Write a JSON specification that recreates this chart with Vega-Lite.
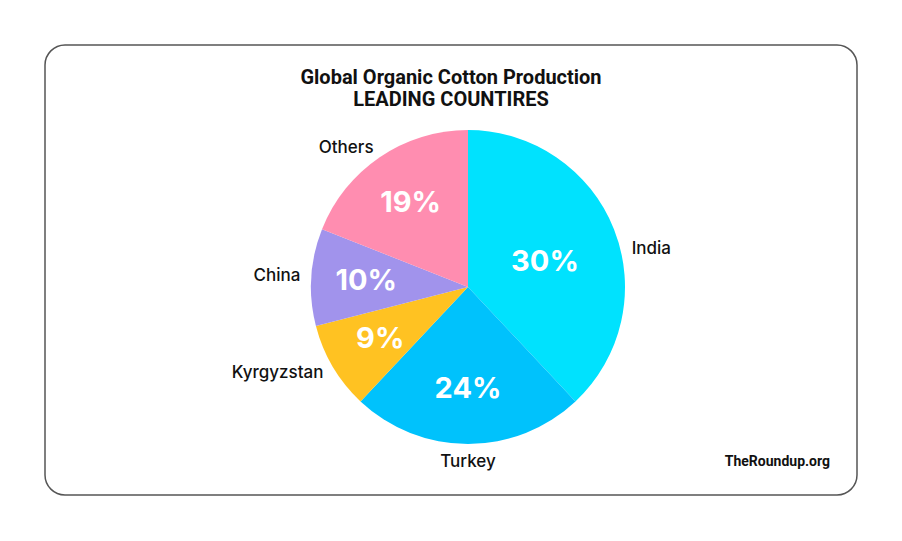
{
  "$schema": "https://vega.github.io/schema/vega-lite/v6.json",
  "width": 812,
  "height": 450,
  "autosize": {"type": "none"},
  "padding": {"left": 45, "top": 45, "right": 45, "bottom": 46},
  "background": "white",
  "config": {
    "view": {"stroke": "#555555", "strokeWidth": 1.5, "cornerRadius": 20},
    "font": "Inter"
  },
  "title": {
    "text": ["Global Organic Cotton Production", "LEADING COUNTIRES"],
    "font": "Roboto",
    "fontSize": 20,
    "fontWeight": "bold",
    "lineHeight": 22,
    "color": "#111111",
    "anchor": "middle",
    "frame": "group",
    "offset": -65
  },
  "data": {
    "values": [
      {"idx": 1, "country": "India", "share": 38, "label": "30%"},
      {"idx": 2, "country": "Turkey", "share": 24, "label": "24%"},
      {"idx": 3, "country": "Kyrgyzstan", "share": 9, "label": "9%"},
      {"idx": 4, "country": "China", "share": 10, "label": "10%"},
      {"idx": 5, "country": "Others", "share": 19, "label": "19%"}
    ]
  },
  "layer": [
    {
      "mark": {"type": "arc", "outerRadius": 157, "xOffset": 17, "yOffset": 17},
      "encoding": {
        "theta": {"field": "share", "type": "quantitative", "stack": true},
        "order": {"field": "idx", "type": "quantitative"},
        "color": {
          "field": "country",
          "type": "nominal",
          "scale": {
            "domain": ["India", "Turkey", "Kyrgyzstan", "China", "Others"],
            "range": ["#00E2FE", "#00C2FC", "#FFC222", "#A193EC", "#FF8DB0"]
          },
          "legend": null
        }
      }
    },
    {
      "mark": {
        "type": "text",
        "radius": {"expr": "(datum.share_start + datum.share_end) / 2 < 45 ? 81 : 102"},
        "thetaOffset": {"expr": "(datum.share_start + datum.share_end) / 2 < 45 ? 0.06 : 0"},
        "xOffset": 17, "yOffset": 17, "fontSize": 29, "fontWeight": "bold", "color": "white", "align": "center", "baseline": "middle"
      },
      "encoding": {
        "theta": {"field": "share", "type": "quantitative", "stack": true},
        "order": {"field": "idx", "type": "quantitative"},
        "text": {"field": "label"}
      }
    },
    {
      "mark": {
        "type": "text",
        "radius": {"expr": "(datum.share_start + datum.share_end) / 2 > 45 && (datum.share_start + datum.share_end) / 2 < 55 ? 175 : 168"},
        "thetaOffset": {"expr": "(datum.share_start + datum.share_end) / 2 < 45 ? 0.15 : 0"},
        "align": {"expr": "(datum.share_start + datum.share_end) / 2 < 45 ? 'left' : ((datum.share_start + datum.share_end) / 2 < 55 ? 'center' : 'right')"},
        "xOffset": 17, "yOffset": 17, "fontSize": 17, "fontWeight": 500, "color": "#111111", "baseline": "middle"
      },
      "encoding": {
        "theta": {"field": "share", "type": "quantitative", "stack": true},
        "order": {"field": "idx", "type": "quantitative"},
        "text": {"field": "country"}
      }
    },
    {
      "data": {"values": [{"credit": "TheRoundup.org"}]},
      "mark": {"type": "text", "font": "Roboto", "fontSize": 14, "fontWeight": "bold", "color": "#111111", "align": "right", "baseline": "alphabetic", "dx": -27, "dy": -29},
      "encoding": {
        "x": {"datum": 1, "type": "quantitative", "scale": {"domain": [0, 1]}, "axis": null},
        "y": {"datum": 0, "type": "quantitative", "scale": {"domain": [0, 1]}, "axis": null},
        "text": {"field": "credit"}
      }
    }
  ]
}
